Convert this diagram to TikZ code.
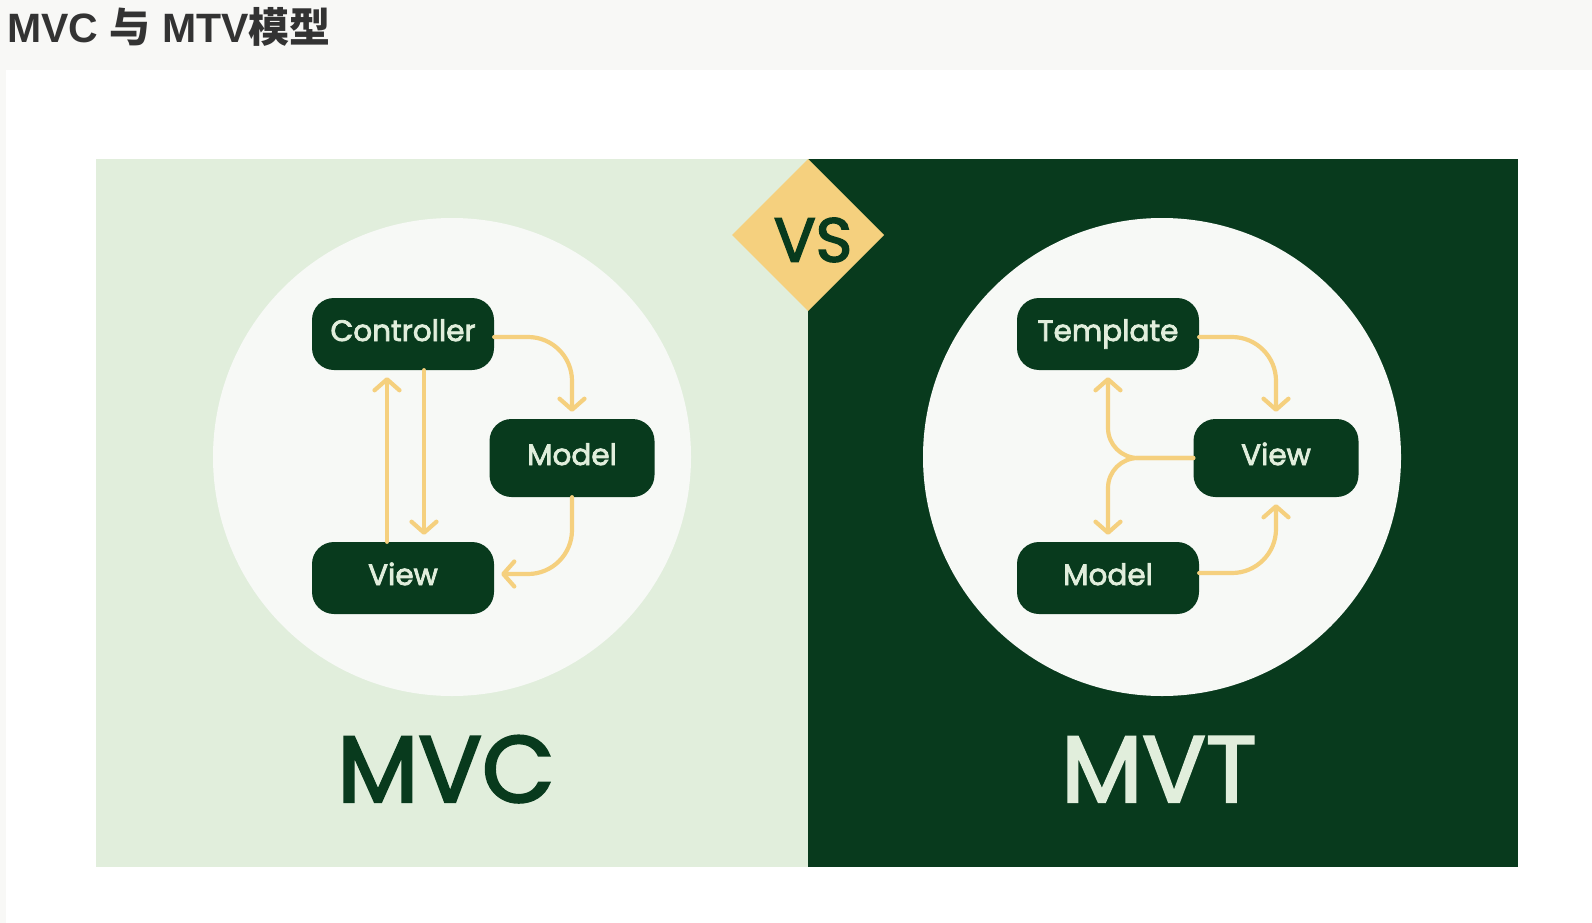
\documentclass[tikz,border=0pt]{standalone}
\usepackage{fontspec}
\usetikzlibrary{arrows.meta}
\newfontfamily\pop{Poppins}[UprightFeatures={FakeBold=2.6}]
\newfontfamily\titlelat{Liberation Sans}[BoldFont={Liberation Sans Bold}]
\newfontfamily\titlecjk{Noto Sans CJK SC Bold}
\definecolor{pagegray}{HTML}{F8F8F6}
\definecolor{lightgr}{HTML}{E1EEDC}
\definecolor{darkgr}{HTML}{083A1D}
\definecolor{circfill}{HTML}{F7F9F6}
\definecolor{yel}{HTML}{F5D07E}
\definecolor{titlecol}{HTML}{333333}
\tikzset{
  box/.style={fill=darkgr, rounded corners=22pt, minimum width=182pt, minimum height=72pt,
    inner sep=0pt, text height=16pt, text depth=2pt, text=lightgr, font=\pop\fontsize{29.5}{29.5}\selectfont},
  arr/.style={draw=yel, line width=4.2pt, line cap=round, line join=round,
    -{Straight Barb[length=11pt,width=25pt,line cap=round,line join=round]}}
}
\begin{document}
\begin{tikzpicture}[x=1pt,y=-1pt]
\useasboundingbox (0,0) rectangle (1592,923);
\fill[pagegray] (0,0) rectangle (1592,923);
\fill[white] (6,70) rectangle (1592,923);
% title
\node[anchor=base west, inner sep=0pt, text=titlecol] (title) at (7,43)
  {\titlelat\bfseries\fontsize{41}{41}\selectfont MVC {\titlecjk 与} MTV{\titlecjk 模型}};
% panels
\fill[lightgr] (96,159) rectangle (808,867);
\fill[darkgr] (808,159) rectangle (1518,867);
% circles
\fill[circfill] (452,457) circle[radius=239];
\fill[circfill] (1162,457) circle[radius=239];
% VS diamond
\fill[yel] (808,159) -- (884,235) -- (808,311) -- (732,235) -- cycle;
\node[text=darkgr, font=\pop\fontsize{62}{62}\selectfont, inner sep=0pt] (vs) at (813,240) {VS};
% MVC nodes
\node[box] (ctl) at (403,334) {Controller};
\node[box, minimum width=165pt, minimum height=78pt] (mdl) at (572,458) {Model};
\node[box] (vw) at (403,578) {View};
\draw[arr, rounded corners=44pt, shorten >=7pt] ([yshift=-3pt]ctl.east) -| (mdl.north);
\draw[arr, shorten >=7pt] ([xshift=-16pt]vw.north) -- ([xshift=-16pt]ctl.south);
\draw[arr, shorten >=7pt] ([xshift=21pt]ctl.south) -- ([xshift=21pt]vw.north);
\draw[arr, rounded corners=44pt, shorten >=7pt] (mdl.south) |- ([yshift=4pt]vw.east);
% MVT nodes
\node[box] (tpl) at (1108,334) {Template};
\node[box, minimum width=165pt, minimum height=78pt] (vw2) at (1276,458) {View};
\node[box] (mdl2) at (1108,578) {Model};
\draw[arr, rounded corners=44pt, shorten >=7pt] ([yshift=-3pt]tpl.east) -| (vw2.north);
\draw[arr, rounded corners=44pt, shorten >=7pt] ([yshift=5pt]mdl2.east) -| (vw2.south);
\draw[arr, rounded corners=30pt, shorten >=7pt] (vw2.west) -| (tpl.south);
\draw[arr, rounded corners=30pt, shorten >=7pt] (vw2.west) -| (mdl2.north);
% big labels
\node[anchor=base, inner sep=0pt, text=darkgr, font=\pop\fontsize{94}{94}\selectfont] (mvc) at (446,802) {MVC};
\node[anchor=base, inner sep=0pt, text=lightgr, font=\pop\fontsize{94}{94}\selectfont] (mvt) at (1159,802) {MVT};
\end{tikzpicture}
\end{document}
